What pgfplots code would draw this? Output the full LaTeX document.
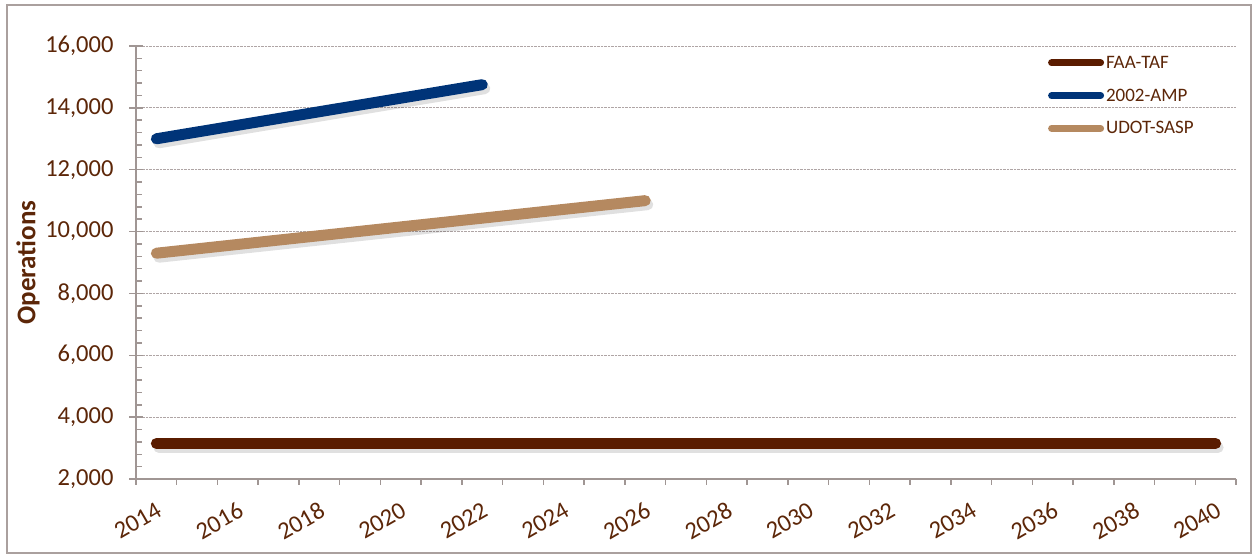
\documentclass[border=0pt]{standalone}
\usepackage{pgfplots}
\pgfplotsset{compat=1.18}
\usepackage{fontspec}
\setmainfont{Carlito}
\definecolor{txt}{RGB}{92,38,8}
\definecolor{faa}{RGB}{90,28,0}
\definecolor{amp}{RGB}{0,52,120}
\definecolor{udot}{RGB}{181,137,96}
\definecolor{axisgray}{RGB}{160,150,148}
\definecolor{gridgray}{RGB}{175,165,165}
\definecolor{framegray}{RGB}{170,160,158}
\pgfplotsset{
  mylegend/.style={legend image code/.code={\draw[line width=7pt, line cap=round] (3.5pt,0pt) -- (52.5pt,0pt);}},
}
\begin{document}
\begin{tikzpicture}
\path[use as bounding box] (0,0) rectangle (1252pt,556pt);
\draw[framegray, line width=2pt] (7pt,3pt) rectangle (1251pt,551pt);
\begin{axis}[
  at={(136pt,77pt)}, anchor=south west,
  scale only axis, width=1100pt, height=433pt,
  xmin=2013.5, xmax=2040.5, ymin=2000, ymax=16000,
  clip=false,
  axis lines=left,
  axis line style={axisgray, line width=1.5pt, -},
  xtick={2014,2016,...,2040},
  xticklabels={2014,2016,2018,2020,2022,2024,2026,2028,2030,2032,2034,2036,2038,2040},
  minor xtick={2013.5,2014.5,2015.5,2016.5,2017.5,2018.5,2019.5,2020.5,2021.5,2022.5,2023.5,2024.5,2025.5,2026.5,2027.5,2028.5,2029.5,2030.5,2031.5,2032.5,2033.5,2034.5,2035.5,2036.5,2037.5,2038.5,2039.5,2040.5},
  ytick={2000,4000,...,16000},
  scaled y ticks=false,
  minor y tick num=4,
  tick align=center,
  major tick length=14pt,
  minor tick length=6pt,
  tick style={axisgray, line width=1.5pt},
  major x tick style={draw=none},
  minor x tick style={yshift=-3pt},
  minor y tick style={xshift=3pt},
  ymajorgrids=true,
  major grid style={gridgray, densely dotted, line width=0.8pt},
  /pgf/number format/assume math mode=true,
  /pgf/number format/1000 sep={,},
  tick label style={font=\fontsize{24.5}{28}\selectfont, color=txt},
  xticklabel style={rotate=30, anchor=north east, yshift=-9pt, xshift=-5pt},
  yticklabel style={xshift=-12pt},
  ylabel={Operations},
  ylabel style={font=\fontsize{27}{30}\selectfont\bfseries, color=txt, at={(axis description cs:-0.0982,0.5)}, anchor=center},
  legend style={at={(rel axis cs:0.829,0.982)}, anchor=north west, draw=none, fill=none,
    font=\fontsize{19}{22}\selectfont, text=txt, row sep=15pt, inner sep=0pt},
  legend cell align=left,
]
% shadows
\addplot[forget plot, black, opacity=0.12, line width=11pt, line cap=round, transform canvas={xshift=2.5pt,yshift=-4pt}] coordinates {(2014,3150) (2040,3150)};
\addplot[forget plot, black, opacity=0.12, line width=11pt, line cap=round, transform canvas={xshift=2.5pt,yshift=-4pt}] coordinates {(2014,13000) (2022,14750)};
\addplot[forget plot, black, opacity=0.12, line width=11pt, line cap=round, transform canvas={xshift=2.5pt,yshift=-4pt}] coordinates {(2014,9300) (2026,11000)};
% series
\addplot[faa, line width=11pt, line cap=round, mylegend] coordinates {(2014,3150) (2040,3150)};
\addlegendentry{FAA-TAF}
\addplot[amp, line width=11pt, line cap=round, mylegend] coordinates {(2014,13000) (2022,14750)};
\addlegendentry{2002-AMP}
\addplot[udot, line width=11pt, line cap=round, mylegend] coordinates {(2014,9300) (2026,11000)};
\addlegendentry{UDOT-SASP}
\end{axis}
\end{tikzpicture}
\end{document}
